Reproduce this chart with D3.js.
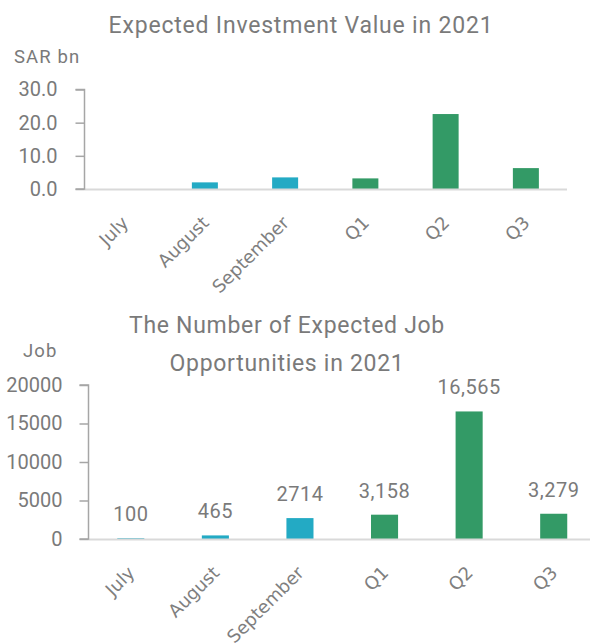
<!DOCTYPE html>
<html>
<head>
<meta charset="utf-8">
<script src="https://cdn.jsdelivr.net/npm/d3@7"></script>
<style>
  html, body { margin: 0; padding: 0; background: #fff; }
  svg { display: block; }
</style>
</head>
<body>
<svg id="chart" width="590" height="643"></svg>
<script>
// ---- data ----
const categories = ["July", "August", "September", "Q1", "Q2", "Q3"];
const investmentValues = [0, 2.0, 3.5, 3.2, 22.6, 6.3];   // SAR bn
const investmentTicks = [0, 10, 20, 30];
const jobValues = [100, 465, 2714, 3158, 16565, 3279];
const jobLabels = ["100", "465", "2714", "3,158", "16,565", "3,279"];
const jobTicks = [0, 5000, 10000, 15000, 20000];
const monthColor = "#23aac4";
const quarterColor = "#339a66";
const colorFor = c => c.startsWith("Q") ? quarterColor : monthColor;

const svg = d3.select("#chart");
const textColor = "#7a7a7a";
const dinFont = "Roboto, 'Open Sans', sans-serif";
const catFont = "'DejaVu Sans', sans-serif";

function drawChart(cfg) {
  const g = svg.append("g");
  const x = d3.scaleBand().domain(categories).range(cfg.xRange)
    .paddingInner(cfg.pad).paddingOuter(cfg.pad / 2);
  const y = d3.scaleLinear().domain(cfg.yDomain).range(cfg.yRange);

  // bars
  g.selectAll("rect.bar").data(categories.map((c, i) => ({c, v: cfg.values[i]})))
    .join("rect").attr("class", "bar")
    .attr("x", d => x(d.c)).attr("width", x.bandwidth())
    .attr("y", d => y(d.v)).attr("height", d => y(0) - y(d.v))
    .attr("fill", d => colorFor(d.c));

  // x baseline
  g.append("line")
    .attr("x1", cfg.xRange[0]).attr("x2", cfg.xRange[1] + 1)
    .attr("y1", y(0) + 0.5).attr("y2", y(0) + 0.5)
    .attr("stroke", "#d9d9d9").attr("stroke-width", 2);

  // y axis
  const yAxis = d3.axisLeft(y).tickValues(cfg.ticks).tickSize(9).tickPadding(cfg.tickPad)
    .tickFormat(cfg.tickFormat);
  const ya = g.append("g").attr("transform", `translate(${cfg.xRange[0]},0)`).call(yAxis);
  ya.select(".domain").attr("stroke", "#a6a6a6").attr("stroke-width", 1.5)
    .attr("d", `M-9,${y(cfg.yDomain[1])}H0V${y(0)}H-9`);
  ya.selectAll(".tick line").attr("stroke", "#a6a6a6").attr("stroke-width", 1.5);
  ya.selectAll(".tick text").attr("fill", textColor)
    .style("font-family", dinFont).style("font-size", "20px");

  // category labels
  g.selectAll("text.cat").data(categories).join("text").attr("class", "cat")
    .attr("transform", d => `translate(${x(d) + x.bandwidth() / 2 + cfg.catDx},${y(0) + cfg.catDy}) rotate(-45)`)
    .attr("text-anchor", "end")
    .attr("fill", "#7f7f7f")
    .style("font-family", catFont).style("font-size", "18px")
    .text(d => d);

  // value labels
  if (cfg.labels) {
    g.selectAll("text.val").data(categories.map((c, i) => ({c, v: cfg.values[i], t: cfg.labels[i]})))
      .join("text").attr("class", "val")
      .attr("x", d => x(d.c) + x.bandwidth() / 2)
      .attr("y", d => y(d.v) - 17)
      .attr("text-anchor", "middle").attr("fill", textColor)
      .style("font-family", dinFont).style("font-size", "20px")
      .style("letter-spacing", "0.5px")
      .text(d => d.t);
  }

  // unit label
  g.append("text").attr("x", cfg.unitX).attr("y", cfg.unitY)
    .attr("fill", textColor).style("font-family", dinFont).style("font-size", "18.5px")
    .style("letter-spacing", "1.1px")
    .text(cfg.unit);

  // title
  const t = g.append("text").attr("text-anchor", "middle").attr("fill", textColor)
    .style("font-family", dinFont).style("font-size", "23px")
    .style("letter-spacing", cfg.titleLS);
  cfg.title.forEach((line, i) => {
    t.append("tspan").attr("x", cfg.titleX).attr("y", cfg.titleY + i * 38).text(line);
  });
}

drawChart({
  xRange: [84.5, 566], pad: 0.676,
  yDomain: [0, 30], yRange: [189, 89.5],
  values: investmentValues, ticks: investmentTicks,
  tickFormat: d3.format(".1f"), tickPad: 18,
  catDx: 5, catDy: 35,
  unit: "SAR bn", unitX: 14, unitY: 63,
  title: ["Expected Investment Value in 2021"], titleX: 301, titleY: 33, titleLS: "0.8px"
});

drawChart({
  xRange: [88.5, 596], pad: 0.68,
  yDomain: [0, 20000], yRange: [539, 385],
  values: jobValues, ticks: jobTicks, labels: jobLabels,
  tickFormat: d3.format("d"), tickPad: 17,
  catDx: 5, catDy: 35,
  unit: "Job", unitX: 23, unitY: 357,
  title: ["The Number of Expected Job", "Opportunities in 2021"], titleX: 287, titleY: 333, titleLS: "0.7px"
});
</script>
</body>
</html>
